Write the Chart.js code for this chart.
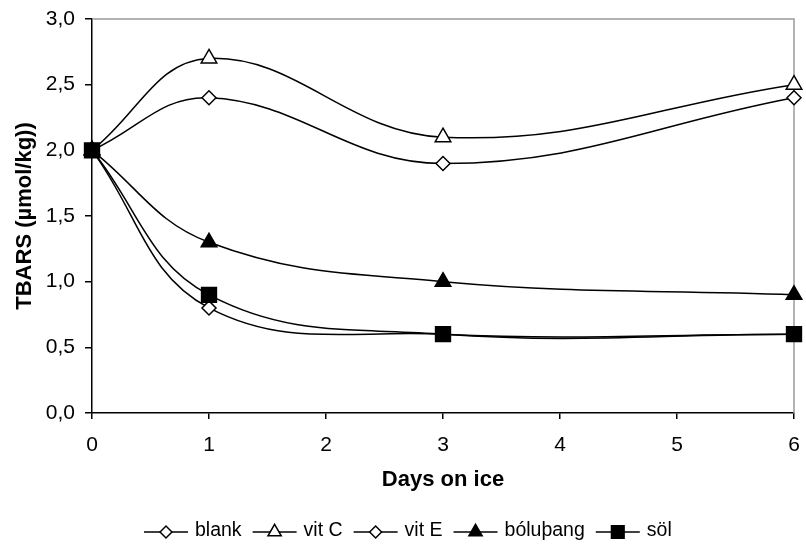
<!DOCTYPE html>
<html>
<head>
<meta charset="utf-8">
<script src="https://cdn.jsdelivr.net/npm/chart.js@4.4.1/dist/chart.umd.min.js"></script>
<style>
  html, body { margin: 0; padding: 0; background: #fff; }
  #wrap { width: 806px; height: 545px; position: relative; }
</style>
</head>
<body>
<div id="wrap"><canvas id="c" width="806" height="545"></canvas></div>
<script>
// Sampling days and TBARS values for each treatment
const days = [0, 1, 3, 6];
const blank = [2.0, 0.8, 0.6, 0.6];
const vitC = [2.0, 2.7, 2.1, 2.5];
const vitE = [2.0, 2.4, 1.9, 2.4];
const boluthang = [2.0, 1.3, 1.0, 0.9];
const sol = [2.0, 0.9, 0.6, 0.6];

const seriesNames = ['blank', 'vit C', 'vit E', 'bóluþang', 'söl'];
const xTicks = [0, 1, 2, 3, 4, 5, 6];
const yTicks = [0, 0.5, 1, 1.5, 2, 2.5, 3];

const FONT = "'Liberation Sans', Arial, sans-serif";

const styles = [
  { pointStyle: 'rectRot', fill: '#ffffff', r: 7 },
  { pointStyle: 'triangle', fill: '#ffffff', r: 9 },
  { pointStyle: 'rectRot', fill: '#ffffff', r: 7 },
  { pointStyle: 'triangle', fill: '#000000', r: 9 },
  { pointStyle: 'rect', fill: '#000000', r: 10.5 }
];
const values = [blank, vitC, vitE, boluthang, sol];

const datasets = values.map((vals, i) => ({
  label: seriesNames[i],
  data: days.map((d, k) => ({ x: d, y: vals[k] })),
  borderColor: '#000',
  borderWidth: 1.5,
  pointStyle: styles[i].pointStyle,
  pointRadius: styles[i].r,
  pointHoverRadius: styles[i].r,
  pointBackgroundColor: styles[i].fill,
  pointBorderColor: '#000',
  pointBorderWidth: 1.5,
  tension: 0.4,
  fill: false,
  clip: false,
  order: values.length - i
}));

// Gray frame on the top and right edges of the plot area
const framePlugin = {
  id: 'frame',
  beforeDatasetsDraw(chart) {
    const { ctx, chartArea: a } = chart;
    ctx.save();
    ctx.strokeStyle = '#9a9a9a';
    ctx.lineWidth = 1.5;
    ctx.beginPath();
    ctx.moveTo(a.left, a.top);
    ctx.lineTo(a.right, a.top);
    ctx.lineTo(a.right, a.bottom);
    ctx.stroke();
    ctx.restore();
  }
};

function drawMarker(ctx, style, r, x, y) {
  if (style === 'rectRot') {
    ctx.moveTo(x - r, y); ctx.lineTo(x, y - r); ctx.lineTo(x + r, y); ctx.lineTo(x, y + r); ctx.closePath();
  } else if (style === 'triangle') {
    const w = r * Math.sqrt(3) / 2;
    ctx.moveTo(x, y - r); ctx.lineTo(x + w, y + r / 2); ctx.lineTo(x - w, y + r / 2); ctx.closePath();
  } else {
    const s = r * Math.SQRT1_2;
    ctx.rect(x - s, y - s, 2 * s, 2 * s);
  }
}

// Legend row: short line with the series marker, then the name
const legendPlugin = {
  id: 'lineLegend',
  afterDraw(chart) {
    const ctx = chart.ctx;
    const y = chart.height - 13;
    const lineLen = 44, gapText = 7, gapItem = 11;
    ctx.save();
    ctx.font = `19.5px ${FONT}`;
    ctx.textBaseline = 'middle';
    let x = 144;
    chart.data.datasets.forEach((ds) => {
      ctx.strokeStyle = '#000';
      ctx.lineWidth = 1.5;
      ctx.beginPath();
      ctx.moveTo(x, y);
      ctx.lineTo(x + lineLen, y);
      ctx.stroke();
      const rr = ds.pointRadius * 0.85;
      ctx.fillStyle = ds.pointBackgroundColor;
      ctx.beginPath();
      drawMarker(ctx, ds.pointStyle, rr, x + lineLen / 2, y);
      ctx.fill();
      ctx.stroke();
      ctx.fillStyle = '#000';
      ctx.fillText(ds.label, x + lineLen + gapText, y - 1);
      x += lineLen + gapText + ctx.measureText(ds.label).width + gapItem;
    });
    ctx.restore();
  }
};

new Chart(document.getElementById('c'), {
  type: 'line',
  data: { datasets },
  options: {
    responsive: false,
    animation: false,
    events: [],
    layout: { padding: { left: 0, right: 9, top: 19, bottom: 52 } },
    plugins: { legend: { display: false }, tooltip: { enabled: false } },
    scales: {
      x: {
        type: 'linear',
        min: 0, max: 6,
        afterFit(s) { s.height = 80; s.paddingLeft = 0; s.paddingRight = 0; },
        afterBuildTicks(s) { s.ticks = xTicks.map(v => ({ value: v })); },
        border: { display: true, color: '#000', width: 1.5 },
        grid: { drawOnChartArea: false, drawTicks: true, tickLength: 6, color: '#000', lineWidth: 1.5 },
        ticks: { color: '#000', font: { family: FONT, size: 21 }, padding: 14, maxRotation: 0, callback: v => String(v) },
        title: { display: true, text: 'Days on ice', color: '#000', font: { family: FONT, size: 22, weight: 'bold' }, padding: { top: 8, bottom: 0 } }
      },
      y: {
        type: 'linear',
        min: 0, max: 3,
        afterFit(s) { s.width = 92; s.paddingTop = 0; s.paddingBottom = 0; },
        afterBuildTicks(s) { s.ticks = yTicks.map(v => ({ value: v })); },
        border: { display: true, color: '#000', width: 1.5 },
        grid: { drawOnChartArea: false, drawTicks: true, tickLength: 7, color: '#000', lineWidth: 1.5 },
        ticks: { color: '#000', font: { family: FONT, size: 21 }, padding: 10, callback: v => v.toFixed(1).replace('.', ',') },
        title: { display: true, text: 'TBARS (µmol/kg))', color: '#000', font: { family: FONT, size: 22, weight: 'bold' }, padding: { top: 12, bottom: 4 } }
      }
    }
  },
  plugins: [framePlugin, legendPlugin]
});
</script>
</body>
</html>
